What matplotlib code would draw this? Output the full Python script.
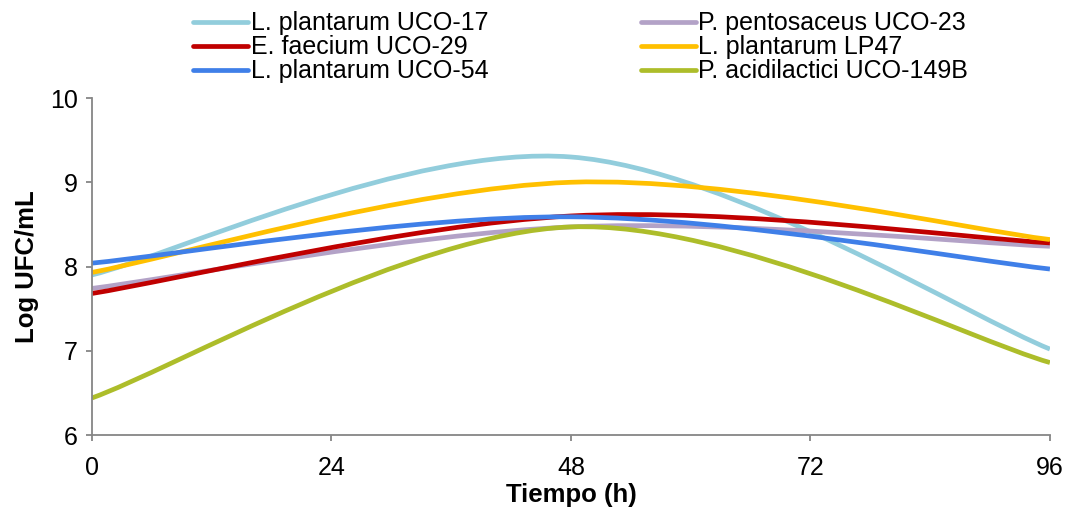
import numpy as np
import matplotlib
matplotlib.use('Agg')
import matplotlib.pyplot as plt
from matplotlib.path import Path
from matplotlib.patches import PathPatch
from matplotlib.lines import Line2D

plt.rcParams['font.family'] = ['Liberation Sans', 'DejaVu Sans']

# data (hours, log UFC/mL)
hours = [0, 48, 96]
uco17 = [7.90, 9.30, 7.02]
uco23 = [7.74, 8.47, 8.24]
uco29 = [7.68, 8.60, 8.28]
lp47 = [7.93, 9.00, 8.32]
uco54 = [8.04, 8.59, 7.97]
uco149b = [6.44, 8.47, 6.86]

names = ['L. plantarum UCO-17', 'P. pentosaceus UCO-23', 'E. faecium UCO-29',
         'L. plantarum LP47', 'L. plantarum UCO-54', 'P. acidilactici UCO-149B']
series = [uco17, uco23, uco29, lp47, uco54, uco149b]
colors = ['#92CDDC', '#B3A2C7', '#C00000', '#FFC000', '#3F7FE8', '#ADBD2A']


def smooth_path(x, y):
    # Excel-like smoothed line: cubic bezier segments between the points
    pts = np.column_stack([x, y]).astype(float)
    n = len(pts)
    verts = [pts[0]]
    codes = [Path.MOVETO]
    for i in range(n - 1):
        p_prev = pts[max(i - 1, 0)]
        p_next2 = pts[min(i + 2, n - 1)]
        c1 = pts[i] + (pts[i + 1] - p_prev) / 6
        c2 = pts[i + 1] - (p_next2 - pts[i]) / 6
        verts += [c1, c2, pts[i + 1]]
        codes += [Path.CURVE4] * 3
    return Path(verts, codes)


fig = plt.figure(figsize=(10.67, 5.11), dpi=100)
ax = fig.add_axes([0.0862, 0.1487, 0.8978, 0.6595])

handles = []
for name, vals, c in zip(names, series, colors):
    patch = PathPatch(smooth_path(hours, vals), fill=False, edgecolor=c,
                      lw=3.4, capstyle='butt', joinstyle='round')
    ax.add_patch(patch)
    handles.append(Line2D([], [], color=c, lw=3.4, solid_capstyle='round', label=name))

ax.set_xlim(0, 96)
ax.set_ylim(6, 10)
ax.set_xticks([0, 24, 48, 72, 96])
ax.set_yticks([6, 7, 8, 9, 10])
for s in ['top', 'right']:
    ax.spines[s].set_visible(False)
for s in ['left', 'bottom']:
    ax.spines[s].set_color('#868686')
    ax.spines[s].set_linewidth(1.3)
ax.tick_params(axis='both', direction='out', length=4.5, width=1.3, color='#868686',
               labelsize=18)
ax.tick_params(axis='x', pad=10.5)
ax.tick_params(axis='y', pad=5.5)
ax.set_xlabel('Tiempo (h)', fontsize=18.5, fontweight='bold', labelpad=2)
ax.set_ylabel('Log UFC/mL', fontsize=18.5, fontweight='bold', labelpad=8)

# legend filled row by row like the original
order = [0, 2, 4, 1, 3, 5]
fig.legend([handles[i] for i in order], [names[i] for i in order], ncol=2,
           loc='upper left', bbox_to_anchor=(0.1645, 1.012), frameon=False,
           fontsize=18, handlelength=2.2, handletextpad=0.1, columnspacing=6.1,
           labelspacing=0.0, borderaxespad=0.3)

fig.savefig('out.png', dpi=100)
